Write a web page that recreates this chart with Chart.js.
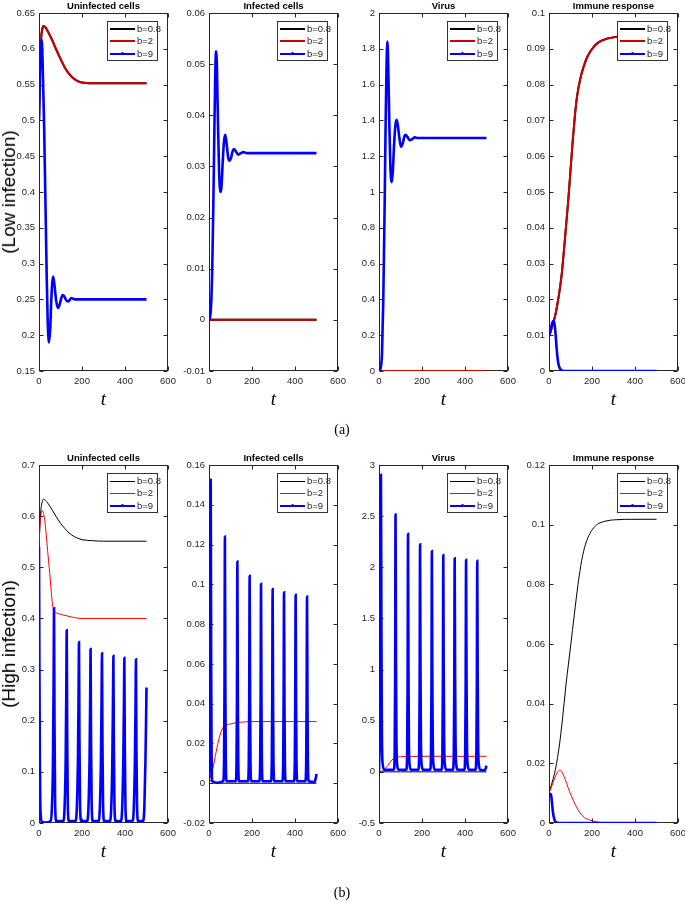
<!DOCTYPE html>
<html>
<head>
<meta charset="utf-8">
<script src="https://cdn.jsdelivr.net/npm/chart.js@4.4.0/dist/chart.umd.min.js"></script>
<style>
body { margin: 0; background: #fff; width: 685px; height: 901px; position: relative; overflow: hidden; font-family: "Liberation Sans", Arial, sans-serif; }
canvas { position: absolute; }
.ttl { position: absolute; font-weight: bold; font-size: 9.5px; color: #000; transform: translateX(-50%); white-space: nowrap; height: 13px; line-height: 13px; }
.tlab { position: absolute; font-family: "Liberation Serif", serif; font-style: italic; font-size: 19px; transform: translate(-50%, -50%); }
.rowlab { position: absolute; font-size: 19px; color: #000; transform: translate(-50%, -50%) rotate(-90deg); white-space: nowrap; }
.cap { position: absolute; font-family: "Liberation Serif", serif; font-size: 14px; transform: translate(-50%, -50%); }
.lg { position: absolute; background: #fff; border: 1px solid #333; box-sizing: border-box; font-size: 9.5px; color: #262626; }
.lg .it { position: absolute; left: 0; height: 12px; line-height: 12px; width: 100%; }
.lg .ln { position: absolute; left: 2px; width: 25px; top: 6px; }
.lg .dot { position: absolute; left: 13px; top: 4.5px; width: 3px; height: 3px; border-radius: 50%; }
.lg .tx { position: absolute; left: 29px; top: 0; }
</style>
</head>
<body>
<script>
// Textos
const titles = ['Uninfected cells', 'Infected cells', 'Virus', 'Immune response'];
const rowLabels = ['(Low infection)', '(High infection)'];
const legendLabels = ['b=0.8', 'b=2', 'b=9'];
const captions = ['(a)', '(b)'];
const xTicks = [0, 600, 200];
// y: [min, max, paso] por panel
const yTicksLow = [[0.15, 0.65, 0.05], [-0.01, 0.06, 0.01], [0, 2, 0.2], [0, 0.1, 0.01]];
const yTicksHigh = [[0, 0.7, 0.1], [-0.02, 0.16, 0.02], [-0.5, 3, 0.5], [0, 0.12, 0.02]];

// Baja infección: b=0.8 y b=2 coinciden
const lowUninfBR = [[0,0.5],[5,0.58],[10,0.615],[15,0.627],[20,0.632],[30,0.63],[40,0.625],[60,0.613],[80,0.599],[100,0.586],[120,0.574],[140,0.565],[160,0.559],[180,0.555],[200,0.553],[250,0.552],[300,0.552],[400,0.552],[500,0.552]];
const lowUninfBlue = [[0,0.5],[4,0.56],[8,0.6],[12,0.613],[16,0.59],[20,0.54],[24,0.49],[28,0.42],[32,0.35],[36,0.28],[40,0.225],[46,0.19],[52,0.208],[57,0.248],[62,0.274],[66,0.282],[72,0.27],[80,0.248],[88,0.238],[96,0.243],[104,0.252],[110,0.256],[118,0.254],[126,0.249],[134,0.247],[142,0.249],[150,0.252],[158,0.251],[166,0.25],[180,0.25],[200,0.25],[300,0.25],[400,0.25],[500,0.25]];
const lowInfBR = [[0,0],[100,0],[300,0],[500,0]];
const lowInfBlue = [[0,0],[5,0.0005],[10,0.003],[15,0.01],[20,0.022],[25,0.037],[30,0.05],[33,0.0525],[37,0.049],[42,0.038],[47,0.029],[53,0.025],[58,0.026],[64,0.031],[70,0.035],[76,0.0362],[83,0.034],[89,0.0318],[95,0.0311],[102,0.0316],[110,0.033],[116,0.0334],[124,0.033],[136,0.0323],[148,0.0326],[160,0.0328],[175,0.0326],[200,0.0326],[300,0.0326],[400,0.0326],[500,0.0326]];
const lowVirBR = [[0,0],[100,0],[300,0],[500,0]];
const lowVirBlue = [[0,0],[8,0.02],[14,0.1],[20,0.4],[26,0.9],[31,1.4],[35,1.7],[39,1.84],[43,1.7],[48,1.38],[53,1.14],[59,1.055],[64,1.11],[70,1.26],[76,1.37],[82,1.403],[88,1.37],[95,1.3],[102,1.253],[110,1.27],[118,1.31],[124,1.319],[132,1.308],[144,1.29],[155,1.296],[167,1.305],[180,1.302],[200,1.302],[300,1.302],[400,1.302],[500,1.302]];
const lowImmBR = [[0,0.01],[10,0.0115],[20,0.0135],[30,0.0158],[40,0.019],[50,0.0228],[60,0.0275],[70,0.034],[80,0.041],[90,0.048],[100,0.056],[110,0.064],[120,0.071],[130,0.0765],[145,0.0815],[160,0.0848],[180,0.088],[206,0.0904],[230,0.0918],[268,0.0928],[300,0.0932],[350,0.0935],[500,0.0935]];
const lowImmBlue = [[0,0.0098],[5,0.0108],[10,0.0122],[15,0.0134],[20,0.014],[24,0.0136],[28,0.012],[32,0.0092],[36,0.006],[40,0.0035],[45,0.0017],[50,0.0008],[58,0.0002],[70,0],[500,0]];

// Alta infección
const highUninfBlack = [[0,0.54],[5,0.59],[10,0.617],[15,0.628],[20,0.633],[30,0.631],[40,0.626],[60,0.613],[80,0.599],[100,0.586],[120,0.576],[140,0.567],[160,0.561],[180,0.557],[200,0.554],[250,0.552],[300,0.551],[500,0.551]];
const highUninfRed = [[0,0.54],[5,0.585],[10,0.605],[15,0.611],[20,0.607],[25,0.597],[30,0.58],[35,0.557],[40,0.533],[45,0.51],[50,0.488],[55,0.462],[60,0.438],[65,0.421],[70,0.414],[80,0.411],[100,0.408],[130,0.405],[160,0.402],[200,0.4],[500,0.4]];
const highUninfBlue = [[0,0.54],[2,0.3],[4,0.12],[6,0.04],[9,0.01],[14,0.002],[30,0.001],
  [54,0.004],[60,0.03],[65,0.12],[68,0.28],[70,0.42],[72,0.2],[75,0.04],[80,0.004],
  [113,0.004],[119,0.03],[124,0.12],[127,0.26],[129,0.377],[131,0.18],[134,0.035],[139,0.004],
  [170,0.004],[176,0.03],[181,0.12],[184,0.25],[186,0.354],[188,0.17],[191,0.035],[196,0.004],
  [224,0.004],[230,0.03],[235,0.12],[238,0.24],[240,0.34],[242,0.16],[245,0.035],[250,0.004],
  [277,0.004],[283,0.03],[288,0.12],[291,0.24],[293,0.332],[295,0.16],[298,0.035],[303,0.004],
  [330,0.004],[336,0.03],[341,0.12],[344,0.235],[346,0.327],[348,0.155],[351,0.035],[356,0.004],
  [381,0.004],[387,0.03],[392,0.12],[395,0.23],[397,0.323],[399,0.155],[402,0.035],[407,0.004],
  [435,0.004],[441,0.03],[446,0.12],[449,0.23],[451,0.32],[453,0.15],[456,0.035],[461,0.004],
  [484,0.004],[490,0.03],[495,0.12],[498,0.2],[500,0.265]];
const highInfBlack = [[0,0.002],[10,0.001],[30,0.0002],[60,0],[500,0]];
const highInfRed = [[0,0.002],[10,0.0042],[20,0.0085],[30,0.014],[40,0.0193],[50,0.0238],[60,0.027],[70,0.0287],[80,0.0293],[100,0.0298],[120,0.0303],[150,0.0307],[200,0.031],[300,0.031],[500,0.031]];
const highInfBlue = [[0,0.002],[3,0.02],[6,0.09],[8,0.1526],[10,0.06],[12,0.015],[16,0.001],[40,0.0002],
  [66,0.001],[70,0.01],[72,0.045],[74,0.124],[76,0.05],[78,0.012],[82,0.001],
  [124,0.001],[128,0.01],[130,0.04],[132,0.1115],[134,0.045],[136,0.011],[140,0.001],
  [181,0.001],[185,0.01],[187,0.04],[189,0.1043],[191,0.042],[193,0.01],[197,0.001],
  [234,0.001],[238,0.01],[240,0.04],[242,0.1003],[244,0.04],[246,0.01],[250,0.001],
  [288,0.001],[292,0.01],[294,0.04],[296,0.0976],[298,0.04],[300,0.01],[304,0.001],
  [341,0.001],[345,0.01],[347,0.04],[349,0.096],[351,0.04],[353,0.01],[357,0.001],
  [395,0.001],[399,0.01],[401,0.04],[403,0.0948],[405,0.04],[407,0.01],[411,0.001],
  [448,0.001],[452,0.01],[454,0.04],[456,0.0939],[458,0.04],[460,0.01],[464,0.001],
  [490,0.0006],[495,0.0018],[500,0.0047]];
const highVirBlack = [[0,0],[100,0],[300,0],[500,0]];
const highVirRed = [[0,0],[10,0.004],[20,0.015],[30,0.035],[40,0.06],[50,0.09],[60,0.115],[70,0.133],[80,0.142],[100,0.148],[150,0.151],[200,0.152],[500,0.152]];
const highVirBlue = [[0,0],[4,0.5],[7,1.8],[9,2.905],[11,1.6],[13,0.5],[17,0.08],[25,0.02],
  [69,0.02],[73,0.2],[75,0.9],[77,2.516],[79,1.1],[81,0.33],[85,0.06],[91,0.02],
  [127,0.02],[131,0.2],[133,0.85],[135,2.327],[137,1.0],[139,0.3],[143,0.06],[149,0.02],
  [183,0.02],[187,0.2],[189,0.8],[191,2.224],[193,1.0],[195,0.3],[199,0.06],[205,0.02],
  [238,0.02],[242,0.2],[244,0.8],[246,2.159],[248,0.95],[250,0.3],[254,0.06],[260,0.02],
  [291,0.02],[295,0.2],[297,0.8],[299,2.12],[301,0.95],[303,0.3],[307,0.06],[313,0.02],
  [344,0.02],[348,0.2],[350,0.8],[352,2.088],[354,0.95],[356,0.3],[360,0.06],[366,0.02],
  [397,0.02],[401,0.2],[403,0.8],[405,2.074],[407,0.95],[409,0.3],[413,0.06],[419,0.02],
  [449,0.02],[453,0.2],[455,0.8],[457,2.064],[459,0.95],[461,0.3],[465,0.06],[471,0.02],
  [490,0.015],[495,0.025],[500,0.06]];
const highImmBlack = [[0,0.01],[10,0.0125],[20,0.015],[30,0.018],[40,0.022],[50,0.027],[60,0.033],[70,0.04],[80,0.047],[90,0.053],[100,0.059],[118,0.07],[135,0.08],[152,0.088],[170,0.0935],[190,0.097],[215,0.0995],[237,0.1006],[270,0.1013],[300,0.1016],[400,0.1018],[500,0.1018]];
const highImmRed = [[0,0.01],[10,0.0118],[20,0.0138],[30,0.0157],[40,0.0171],[50,0.0177],[60,0.0171],[70,0.0156],[82,0.0133],[95,0.0106],[113,0.0076],[130,0.0051],[144,0.0034],[165,0.0018],[190,0.001],[220,0.0004],[250,0.0001],[300,0],[500,0]];
const highImmBlue = [[0,0.0098],[5,0.0098],[9,0.0095],[12,0.0082],[15,0.006],[18,0.0038],[22,0.002],[27,0.0008],[33,0.0002],[45,0],[500,0]];

const panels = [
  [[lowUninfBR, lowUninfBR, lowUninfBlue], [lowInfBR, lowInfBR, lowInfBlue], [lowVirBR, lowVirBR, lowVirBlue], [lowImmBR, lowImmBR, lowImmBlue]],
  [[highUninfBlack, highUninfRed, highUninfBlue], [highInfBlack, highInfRed, highInfBlue], [highVirBlack, highVirRed, highVirBlue], [highImmBlack, highImmRed, highImmBlue]]
];
const yTicks = [yTicksLow, yTicksHigh];

// Disposición
const plotLefts = [39, 209, 379, 549];
const plotTops = [13, 465];
const plotW = 129, plotH = 358;
const colors = [['#000000', '#cc0000', '#0000ff'], ['#000000', '#ff0000', '#0000ff']];
const widths = [[2, 2, 2.6], [1, 1, 2.6]];
const axisColor = '#262626';
const tickFont = { family: '"Liberation Sans", Arial, sans-serif', size: 9.5 };

// Caja tipo MATLAB con marcas hacia dentro
const boxPlugin = {
  id: 'matlabBox',
  beforeDatasetsDraw(chart) {
    const { ctx, chartArea: a, scales: { x, y } } = chart;
    const L = Math.round(a.left) + 0.5, R = Math.round(a.right) - 0.5;
    const T = Math.round(a.top) + 0.5, B = Math.round(a.bottom) - 0.5;
    ctx.save();
    ctx.strokeStyle = axisColor;
    ctx.lineWidth = 1;
    ctx.strokeRect(L, T, R - L, B - T);
    ctx.beginPath();
    y.ticks.forEach(t => {
      const py = Math.round(y.getPixelForValue(t.value)) + 0.5;
      ctx.moveTo(L, py); ctx.lineTo(L + 4, py);
      ctx.moveTo(R, py); ctx.lineTo(R - 4, py);
    });
    x.ticks.forEach(t => {
      const px = Math.round(x.getPixelForValue(t.value)) + 0.5;
      ctx.moveTo(px, B); ctx.lineTo(px, B - 4);
      ctx.moveTo(px, T); ctx.lineTo(px, T + 4);
    });
    ctx.stroke();
    ctx.restore();
  }
};

function addDiv(cls, text, left, top) {
  const d = document.createElement('div');
  d.className = cls;
  d.textContent = text;
  d.style.left = left + 'px';
  d.style.top = top + 'px';
  document.body.appendChild(d);
  return d;
}

function addLegend(row, col, datasets) {
  const box = document.createElement('div');
  box.className = 'lg';
  box.style.left = (plotLefts[col] + plotW - 10 - 51) + 'px';
  box.style.top = (plotTops[row] + 8) + 'px';
  box.style.width = '51px';
  box.style.height = '40px';
  datasets.forEach((ds, i) => {
    const it = document.createElement('div');
    it.className = 'it';
    it.style.top = (1 + i * 12.4) + 'px';
    const ln = document.createElement('span');
    ln.className = 'ln';
    const w = Math.min(ds.borderWidth, 2);
    ln.style.borderTop = w + 'px solid ' + ds.borderColor;
    ln.style.top = (6 - w / 2) + 'px';
    it.appendChild(ln);
    if (i === 2) {
      const dot = document.createElement('span');
      dot.className = 'dot';
      dot.style.background = ds.borderColor;
      it.appendChild(dot);
    }
    const tx = document.createElement('span');
    tx.className = 'tx';
    tx.textContent = ds.label;
    it.appendChild(tx);
    box.appendChild(it);
  });
  document.body.appendChild(box);
}

function makePanel(row, col) {
  const cv = document.createElement('canvas');
  cv.width = 39 + plotW + 14;
  cv.height = 13 + plotH + 20;
  cv.style.left = (plotLefts[col] - 39) + 'px';
  cv.style.top = (plotTops[row] - 13) + 'px';
  document.body.appendChild(cv);

  const [yMin, yMax, yStep] = yTicks[row][col];
  const datasets = panels[row][col].map((serie, i) => ({
    label: legendLabels[i],
    data: serie.map(p => ({ x: p[0], y: p[1] })),
    borderColor: colors[row][i],
    borderWidth: widths[row][i],
    pointRadius: 0,
    cubicInterpolationMode: 'monotone',
    fill: false,
    order: 2 - i
  }));

  new Chart(cv, {
    type: 'line',
    data: { datasets },
    options: {
      responsive: false,
      animation: false,
      devicePixelRatio: 1,
      layout: { padding: { top: 13, right: 14, left: 0, bottom: 0 } },
      plugins: { legend: { display: false }, tooltip: { enabled: false }, title: { display: false } },
      scales: {
        x: {
          type: 'linear', min: xTicks[0], max: xTicks[1],
          ticks: { stepSize: xTicks[2], color: axisColor, font: tickFont, padding: 5, maxRotation: 0 },
          grid: { display: false, drawTicks: false },
          border: { display: false },
          afterFit: s => { s.height = 20; }
        },
        y: {
          type: 'linear', min: yMin, max: yMax,
          ticks: { stepSize: yStep, color: axisColor, font: tickFont, padding: 4, autoSkip: false,
                   callback: v => String(+Number(v).toFixed(4)) },
          grid: { display: false, drawTicks: false },
          border: { display: false },
          afterFit: s => { s.width = 39; }
        }
      }
    },
    plugins: [boxPlugin]
  });

  addDiv('ttl', titles[col], plotLefts[col] + plotW / 2, plotTops[row] - 14);
  addDiv('tlab', 't', plotLefts[col] + plotW / 2, plotTops[row] + plotH + 28);
  addLegend(row, col, datasets);
}

for (let r = 0; r < 2; r++) {
  for (let c = 0; c < 4; c++) makePanel(r, c);
  addDiv('rowlab', rowLabels[r], 9, plotTops[r] + plotH / 2);
}
addDiv('cap', captions[0], 342, 430);
addDiv('cap', captions[1], 342, 893);
</script>
</body>
</html>
